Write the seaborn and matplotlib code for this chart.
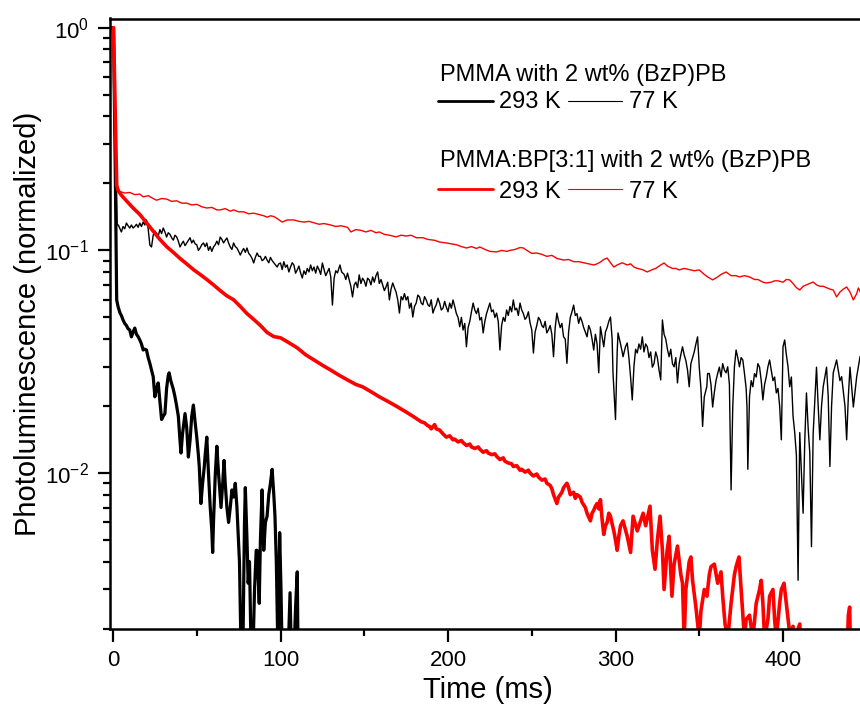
import numpy as np
import pandas as pd
import seaborn as sns
import matplotlib
matplotlib.use("Agg")
import matplotlib.pyplot as plt
from matplotlib.lines import Line2D
from matplotlib.ticker import MultipleLocator, LogLocator, NullFormatter

# ---------------- data ----------------
# PMMA, 293 K (thick black)
t_b293 = [-2, 0.3, 1.3, 2.2, 3, 4.2, 5, 6, 7, 8, 9, 10, 11, 12, 13, 14, 15, 16, 17, 18,
          19, 20, 21, 22, 23, 24, 25, 26, 27, 28, 29, 30, 31, 32, 33, 33.5, 34.5, 36, 37, 38,
          39, 40, 40.6, 41.5, 43, 44, 45, 46, 47, 48, 49, 50, 51, 51.5, 52.5, 53.5, 54.5, 55, 56, 57,
          58, 59, 59.5, 60, 61, 62, 63, 64.5, 65.5, 66.3, 67, 68, 69, 70, 71, 72, 73, 74, 74.5, 75.5,
          76.5, 77.5, 78.5, 79, 80, 80.7, 81.5, 82.5, 83.5, 84.5, 85.5, 86, 87, 87.3, 88, 89, 90, 91,
          92, 93, 94, 95, 96, 96.7, 97.5, 98.5, 99.5, 100.3, 101, 103, 104.5, 105.7, 106.5, 108,
          109, 110, 110.5, 112]
v_b293 = [1.0, 1.0, 0.25, 0.0599, 0.056, 0.0523, 0.051, 0.0487, 0.047, 0.046, 0.0445, 0.0439,
          0.0409, 0.043, 0.0448, 0.042, 0.041, 0.0396, 0.038, 0.0357, 0.036, 0.0357, 0.033, 0.0311,
          0.029, 0.0271, 0.0220, 0.024, 0.0254, 0.021, 0.0174, 0.0180, 0.0185, 0.024, 0.0275, 0.0282,
          0.026, 0.0238, 0.022, 0.020, 0.0180, 0.014, 0.0123, 0.015, 0.0185, 0.016, 0.0118, 0.014,
          0.018, 0.0202, 0.017, 0.0145, 0.012, 0.0107, 0.0073, 0.009, 0.0107, 0.012, 0.0145, 0.010,
          0.0071, 0.0055, 0.0044, 0.006, 0.0096, 0.0132, 0.010, 0.0070, 0.009, 0.0114, 0.009, 0.007,
          0.0060, 0.007, 0.0084, 0.0078, 0.0090, 0.007, 0.0058, 0.004, 0.0015, 0.0015, 0.006, 0.0086,
          0.005, 0.0032, 0.004, 0.0015, 0.0015, 0.003, 0.0045, 0.0045, 0.003, 0.0026, 0.005, 0.0084,
          0.0045, 0.006, 0.0064, 0.008, 0.009, 0.0104, 0.008, 0.0064, 0.004, 0.0015, 0.0054, 0.003,
          0.0015, 0.0015, 0.0015, 0.0029, 0.0015, 0.0015, 0.0025, 0.0036, 0.0015, 0.0015]

# PMMA, 77 K (thin black)
t_b77 = [-2, 0.3, 1.5, 2.5, 3.2, 4, 5, 6, 7, 8, 9, 10, 11, 12, 13, 14, 15, 16, 17, 18,
         19, 20, 21, 22, 23, 24, 25, 26, 27, 28, 29, 30, 31, 32, 33, 34, 35, 36, 37, 38,
         39, 40, 41, 42, 43, 44, 45, 46, 47, 48, 49, 50, 51, 52, 53, 54, 55, 56, 57, 58,
         59, 60, 61, 62, 63, 64, 65, 66, 67, 68, 69, 70, 71, 72, 73, 74, 75, 76, 77, 78,
         79, 80, 81, 82, 83, 84, 85, 86, 87, 88, 89, 90, 91, 92, 93, 94, 95, 96, 97, 98,
         99, 100, 101, 102, 103, 104, 105, 106, 107, 108, 109, 110, 111, 112, 113, 114, 115, 116, 117, 118,
         119, 120, 121, 122, 123, 124, 125, 126, 127, 128, 129, 130, 131, 132, 133, 134, 135.5, 136.5, 138, 139,
         140, 141.5, 142, 143, 144, 145, 146, 147, 148, 149, 150, 151, 152, 153, 154, 155, 156, 157, 158, 159,
         160, 161, 162, 163, 164, 165, 166, 167, 168, 169, 170, 171, 172, 173, 174, 175, 176, 177, 178, 179,
         180, 181, 182, 183, 184, 185, 186, 187, 188, 189, 190, 191, 192, 193, 194, 195, 196, 197, 198, 199,
         200, 201, 202, 203, 204, 205, 206, 207, 208, 209, 210, 211, 212, 213, 214, 215, 216, 217, 218, 219,
         220, 221, 222, 223, 224, 225, 226, 227, 228, 229, 230, 231, 232, 233, 234, 235, 236, 237, 238, 239,
         240, 241, 242, 243, 244, 245, 246, 247, 248, 249, 250, 251, 252, 253, 254, 255, 256, 257, 258, 259,
         260, 261, 262, 263, 264, 265, 266, 267, 268, 269, 270, 271, 272, 273, 274, 275, 276, 277, 278, 279,
         280, 281, 282, 283, 284, 285, 286, 287, 288, 289, 290, 291, 292, 293, 294, 295, 296, 297, 298, 298.5,
         299, 300, 301, 301.5, 303, 304, 304.5, 306, 307, 308, 309, 310, 311, 312, 313, 314, 315, 316, 317, 318,
         319, 320, 321, 322, 323, 324, 325, 326, 327, 328, 329, 330, 331, 332, 333, 334, 335, 336, 337, 338,
         339, 340, 341, 342, 343, 344, 345, 346, 347, 348, 349, 350, 351, 352, 353, 354.5, 355, 356, 357, 358,
         359, 360, 361, 362, 363, 364, 365, 366, 367, 368, 369, 370, 371, 372, 373, 374, 375, 376, 377, 378,
         378.5, 379, 380, 381, 382, 383, 384, 385, 386, 387, 388, 389, 390, 391, 392, 393, 394, 395, 396, 397,
         398, 399, 400, 401, 402, 403, 404, 405, 406, 407, 408, 409, 410, 411, 412, 413, 414, 415, 416, 417,
         418, 419, 420, 421, 422, 423, 424, 426, 427, 428, 429, 430, 432, 434, 435, 437, 438, 439, 440, 442,
         444, 446, 448]
v_b77 = [1.0, 1.0, 0.30, 0.13, 0.130, 0.126, 0.121, 0.128, 0.125, 0.1327, 0.129, 0.126, 0.130, 0.126, 0.128, 0.131, 0.127, 0.1327, 0.128, 0.134,
         0.130, 0.137, 0.125, 0.1057, 0.1036, 0.117, 0.122, 0.1195, 0.116, 0.124, 0.119, 0.126, 0.121, 0.1148, 0.120, 0.118, 0.114, 0.1112, 0.117, 0.115,
         0.110, 0.1036, 0.107, 0.110, 0.105, 0.1079, 0.111, 0.114, 0.108, 0.1112, 0.107, 0.106, 0.100, 0.1025, 0.106, 0.108, 0.104, 0.1079, 0.100, 0.104,
         0.099, 0.1036, 0.106, 0.110, 0.106, 0.1148, 0.112, 0.108, 0.111, 0.1137, 0.108, 0.1036, 0.101, 0.108, 0.104, 0.1025, 0.099, 0.0953, 0.099, 0.102,
         0.098, 0.1025, 0.097, 0.095, 0.092, 0.0878, 0.093, 0.0973, 0.094, 0.094, 0.090, 0.091, 0.094, 0.0905, 0.088, 0.093, 0.090, 0.088, 0.086, 0.0842,
         0.087, 0.0878, 0.082, 0.089, 0.084, 0.086, 0.080, 0.0842, 0.088, 0.086, 0.079, 0.0817, 0.085, 0.0792, 0.0752, 0.081, 0.078, 0.083, 0.080, 0.086,
         0.081, 0.0842, 0.079, 0.085, 0.082, 0.078, 0.0878, 0.082, 0.077, 0.080, 0.083, 0.076, 0.0568, 0.075, 0.081, 0.0792, 0.086, 0.080, 0.078, 0.074,
         0.079, 0.0714, 0.069, 0.0618, 0.070, 0.072, 0.068, 0.0776, 0.071, 0.075, 0.073, 0.069, 0.075, 0.0737, 0.070, 0.076, 0.072, 0.077, 0.080, 0.071,
         0.074, 0.070, 0.066, 0.0685, 0.072, 0.0599, 0.067, 0.0714, 0.068, 0.065, 0.060, 0.0523, 0.062, 0.060, 0.064, 0.0599, 0.062, 0.055, 0.058, 0.0502,
         0.056, 0.058, 0.063, 0.0618, 0.058, 0.057, 0.062, 0.0599, 0.057, 0.056, 0.060, 0.0523, 0.055, 0.057, 0.061, 0.058, 0.054, 0.055, 0.059, 0.0556,
         0.053, 0.058, 0.055, 0.0599, 0.056, 0.052, 0.050, 0.0454, 0.050, 0.0439, 0.047, 0.0369, 0.045, 0.048, 0.053, 0.058, 0.054, 0.052, 0.055, 0.0487,
         0.050, 0.0426, 0.048, 0.052, 0.055, 0.058, 0.053, 0.054, 0.050, 0.0523, 0.048, 0.0357, 0.046, 0.050, 0.048, 0.054, 0.051, 0.056, 0.053, 0.0599,
         0.054, 0.055, 0.051, 0.058, 0.054, 0.052, 0.049, 0.0502, 0.053, 0.0472, 0.044, 0.0346, 0.043, 0.046, 0.050, 0.0487, 0.046, 0.045, 0.048, 0.0426,
         0.044, 0.046, 0.042, 0.0333, 0.045, 0.0523, 0.048, 0.045, 0.047, 0.0409, 0.040, 0.0311, 0.043, 0.050, 0.053, 0.0568, 0.051, 0.052, 0.047, 0.0502,
         0.048, 0.045, 0.043, 0.0409, 0.046, 0.044, 0.040, 0.0357, 0.042, 0.038, 0.0282, 0.0454, 0.041, 0.0369, 0.043, 0.045, 0.048, 0.0502, 0.040, 0.0282,
         0.024, 0.0174, 0.035, 0.0426, 0.038, 0.035, 0.0333, 0.037, 0.0384, 0.033, 0.027, 0.0213, 0.030, 0.036, 0.0346, 0.038, 0.036, 0.0409, 0.035, 0.038,
         0.0369, 0.033, 0.035, 0.0299, 0.031, 0.035, 0.033, 0.029, 0.0262, 0.0487, 0.042, 0.040, 0.036, 0.0333, 0.036, 0.031, 0.030, 0.033, 0.0254, 0.031,
         0.034, 0.0369, 0.034, 0.032, 0.029, 0.0244, 0.031, 0.033, 0.035, 0.038, 0.0409, 0.0299, 0.024, 0.0162, 0.022, 0.0244, 0.028, 0.028, 0.025, 0.0198,
         0.023, 0.026, 0.028, 0.0299, 0.027, 0.031, 0.029, 0.0282, 0.030, 0.025, 0.0084, 0.0198, 0.030, 0.0357, 0.033, 0.030, 0.033, 0.0322, 0.028, 0.024,
         0.0198, 0.0104, 0.022, 0.026, 0.0244, 0.028, 0.027, 0.031, 0.0299, 0.026, 0.0213, 0.025, 0.027, 0.030, 0.0322, 0.029, 0.026, 0.027, 0.0229, 0.024,
         0.020, 0.0141, 0.0369, 0.0396, 0.034, 0.030, 0.0244, 0.027, 0.018, 0.0152, 0.012, 0.0033, 0.0152, 0.010, 0.0066, 0.014, 0.0229, 0.016, 0.0123, 0.00467,
         0.015, 0.0213, 0.0299, 0.020, 0.0141, 0.020, 0.0244, 0.0299, 0.022, 0.0107, 0.020, 0.0282, 0.0322, 0.026, 0.0271, 0.020, 0.0141, 0.022, 0.0299, 0.0198,
         0.0271, 0.0333, 0.035]

# PMMA:BP[3:1], 293 K (thick red)
t_r293 = [-2, 0.3, 1.2, 2.2, 3, 5, 8, 12, 16, 20, 24, 28, 32, 36, 40, 44, 48, 52, 56, 60,
          64, 68, 72, 76, 80, 84, 88, 92, 96, 100, 105, 110, 115, 120, 125, 130, 135, 140, 145, 149,
          154, 159, 164, 170, 175, 179, 184, 186, 188, 189, 190, 192, 193, 195, 197, 199, 201, 203, 204, 206,
          208, 209, 211, 213, 214, 216, 218, 219, 221, 223, 224, 226, 228, 229, 231, 233, 234, 236, 238, 239,
          241, 243, 244, 246, 248, 249, 251, 253, 254, 256, 258, 259, 261, 262, 263, 265, 266, 268, 269, 271,
          272, 273, 275, 276, 277, 279, 280, 282, 283, 285, 286, 287, 288, 289, 290, 291, 292, 293, 294, 295,
          296, 297, 298, 299, 300, 301, 302, 303, 304.5, 307, 309, 310.5, 313, 316.5, 318, 320.6, 322, 323.6, 325, 326.6,
          328, 329, 330.7, 332, 333.7, 335, 337, 339, 340, 341, 342, 344, 345, 346, 348, 350, 351, 353, 354.6, 356,
          357, 359, 361, 363, 364, 365.4, 367, 369, 371, 372, 373.7, 375, 377, 378, 380, 382, 384, 386, 387, 388,
          389, 391, 392, 394, 395, 396, 398, 399, 400.6, 401.5, 402.5, 404, 406, 407, 408, 410, 411, 415, 420, 425,
          430, 435, 438, 439, 439.8, 440.5, 445, 450]
v_r293 = [1.0, 1.0, 0.47, 0.196, 0.186, 0.177, 0.167, 0.155, 0.145, 0.133, 0.122, 0.112, 0.104, 0.098, 0.092, 0.087, 0.082, 0.078, 0.074, 0.070,
          0.066, 0.0625, 0.060, 0.056, 0.052, 0.049, 0.046, 0.0428, 0.041, 0.0405, 0.0385, 0.0365, 0.034, 0.0322, 0.0305, 0.029, 0.0275, 0.0262, 0.025, 0.0244,
          0.0232, 0.022, 0.0210, 0.0198, 0.0188, 0.018, 0.017, 0.0168, 0.0163, 0.0162, 0.0158, 0.0165, 0.0158, 0.0156, 0.0150, 0.0145, 0.0147, 0.0141, 0.0142, 0.0138,
          0.0140, 0.0137, 0.0133, 0.0135, 0.0131, 0.0129, 0.0131, 0.0128, 0.0124, 0.0126, 0.0123, 0.0121, 0.0122, 0.0119, 0.0115, 0.0117, 0.0113, 0.0111, 0.0110, 0.0107,
          0.0108, 0.0103, 0.0104, 0.0101, 0.0103, 0.0100, 0.0097, 0.0099, 0.0096, 0.0093, 0.0094, 0.0090, 0.0088, 0.0085, 0.0080, 0.0073, 0.0078, 0.0082, 0.0086, 0.009,
          0.0086, 0.0080, 0.0082, 0.0077, 0.0080, 0.0078, 0.0074, 0.0070, 0.0066, 0.0061, 0.0066, 0.0068, 0.0071, 0.0073, 0.0069, 0.0076, 0.0062, 0.0053, 0.0058, 0.0060,
          0.0066, 0.0064, 0.0059, 0.0055, 0.0050, 0.0045, 0.0052, 0.0058, 0.0061, 0.0052, 0.0044, 0.0064, 0.0055, 0.0066, 0.0058, 0.0071, 0.0045, 0.0037, 0.005, 0.0064,
          0.0045, 0.0030, 0.0044, 0.0052, 0.0028, 0.0039, 0.0047, 0.0035, 0.0032, 0.0018, 0.0030, 0.0040, 0.0042, 0.0033, 0.0025, 0.0018, 0.0024, 0.0030, 0.0028, 0.0035,
          0.0038, 0.0039, 0.0032, 0.0036, 0.0028, 0.0021, 0.0018, 0.0026, 0.0035, 0.0038, 0.0042, 0.0030, 0.0018, 0.0022, 0.0023, 0.0018, 0.0026, 0.003, 0.0033, 0.0026,
          0.0018, 0.0022, 0.0028, 0.003, 0.0022, 0.0018, 0.0026, 0.0030, 0.0032, 0.0028, 0.0024, 0.0019, 0.00205, 0.0018, 0.0019, 0.0021, 0.0015, 0.0012, 0.0013, 0.0012,
          0.0013, 0.0012, 0.0013, 0.0023, 0.0025, 0.0013, 0.0012, 0.0012]

# PMMA:BP[3:1], 77 K (thin red)
t_r77 = [-2, 0.3, 1.2, 2.2, 4, 7, 10, 13, 16, 18, 21, 24, 26, 29, 32, 35, 38, 41, 44, 47,
         50, 53, 56, 59, 62, 64, 67, 70, 72, 75, 78, 81, 84, 87, 90, 92, 94, 96, 98, 101,
         104, 108, 111, 114, 117, 120, 123, 126, 130, 133, 136, 140, 142, 145, 148, 151, 154, 157, 159, 162,
         165, 169, 172, 175, 178, 181, 185, 188, 192, 195, 199, 202, 205, 208, 211, 214, 217, 219, 222, 225,
         229, 232, 235, 237, 240, 243, 245, 248, 250, 253, 256, 259, 262, 265, 269, 272, 275, 278, 281, 284,
         287, 289, 291, 293, 295, 297, 299, 301, 304, 307, 309, 311, 313, 316, 319, 322, 324, 327, 329, 331,
         334, 336, 338, 341, 344, 347, 350, 353, 355, 358, 361, 363, 366, 369, 372, 374, 377, 380, 383, 385,
         388, 390, 393, 395, 397, 400, 402, 404, 406, 408, 410, 412, 414, 416, 418, 420, 422, 424, 426, 428,
         430, 432, 434, 436, 438, 440, 442, 444, 445, 447, 449]
v_r77 = [1.0, 1.0, 0.47, 0.196, 0.184, 0.181, 0.182, 0.178, 0.179, 0.174, 0.176, 0.171, 0.168, 0.171, 0.170, 0.166, 0.167, 0.163, 0.163, 0.160,
         0.161, 0.157, 0.155, 0.156, 0.152, 0.152, 0.154, 0.150, 0.152, 0.149, 0.149, 0.146, 0.147, 0.145, 0.143, 0.141, 0.143, 0.142, 0.139, 0.134,
         0.137, 0.137, 0.135, 0.134, 0.135, 0.133, 0.131, 0.132, 0.130, 0.128, 0.129, 0.127, 0.121, 0.124, 0.123, 0.121, 0.123, 0.120, 0.121, 0.118,
         0.117, 0.115, 0.117, 0.116, 0.117, 0.114, 0.114, 0.112, 0.111, 0.109, 0.108, 0.107, 0.106, 0.104, 0.1025, 0.104, 0.102, 0.1036, 0.101, 0.099,
         0.0984, 0.100, 0.099, 0.100, 0.101, 0.103, 0.1025, 0.099, 0.097, 0.0973, 0.096, 0.094, 0.095, 0.092, 0.0905, 0.091, 0.089, 0.089, 0.088, 0.087,
         0.086, 0.087, 0.0887, 0.091, 0.0924, 0.088, 0.0842, 0.086, 0.088, 0.086, 0.087, 0.0842, 0.083, 0.082, 0.080, 0.082, 0.083, 0.086, 0.0878, 0.085,
         0.083, 0.083, 0.0817, 0.083, 0.082, 0.081, 0.0817, 0.078, 0.076, 0.0737, 0.076, 0.078, 0.080, 0.077, 0.077, 0.076, 0.077, 0.076, 0.074, 0.074,
         0.072, 0.0714, 0.072, 0.073, 0.073, 0.072, 0.074, 0.0737, 0.071, 0.068, 0.0664, 0.069, 0.070, 0.071, 0.0721, 0.070, 0.069, 0.069, 0.068, 0.067,
         0.0664, 0.0618, 0.065, 0.067, 0.0685, 0.065, 0.0599, 0.064, 0.0678, 0.063, 0.064]

x_major_ticks = [0, 100, 200, 300, 400]
legend_title_1 = "PMMA with 2 wt% (BzP)PB"
legend_title_2 = "PMMA:BP[3:1] with 2 wt% (BzP)PB"
temp_labels = ["293 K", "77 K"]

# ---------------- style ----------------
sns.set_style("ticks")
plt.rcParams['font.family'] = ['Liberation Sans', 'DejaVu Sans']
plt.rcParams['mathtext.default'] = 'regular'
plt.rcParams['axes.linewidth'] = 1.8
for key in ['text.color', 'axes.labelcolor', 'xtick.color', 'ytick.color', 'axes.edgecolor']:
    plt.rcParams[key] = 'black'

W, H = 860, 707
fig = plt.figure(figsize=(W / 100, H / 100), dpi=100)

def fx(px):
    return px / W

def fy(py):
    return 1 - py / H

ax_left, ax_right = 109.65, 866.75
ax_top, ax_bottom = 18.5, 628.7
ax = fig.add_axes([fx(ax_left), fy(ax_bottom), (ax_right - ax_left) / W, (ax_bottom - ax_top) / H])

series = [
    (t_b293, v_b293, "black", 2.3),
    (t_b77, v_b77, "black", 1.0),
    (t_r293, v_r293, "red", 2.6),
    (t_r77, v_r77, "red", 1.0),
]
for t, v, c, lw in series:
    df = pd.DataFrame({"t": t, "v": v})
    sns.lineplot(data=df, x="t", y="v", ax=ax, color=c, linewidth=lw,
                 estimator=None, sort=False, legend=False)

ax.set_yscale("log")
ax.set_xlim(-2, 450)
ax.set_ylim(0.002, 1.1)
ax.set_xticks(x_major_ticks)
ax.xaxis.set_minor_locator(MultipleLocator(50))
ax.yaxis.set_major_locator(LogLocator(base=10, numticks=10))
ax.yaxis.set_minor_locator(LogLocator(base=10, subs=np.arange(2, 10), numticks=20))
ax.yaxis.set_minor_formatter(NullFormatter())

ax.tick_params(axis="both", which="major", direction="out", length=9, width=1.6,
               labelsize=16, pad=6, color="black", labelcolor="black")
ax.tick_params(axis="both", which="minor", direction="out", length=5, width=1.6, color="black")
ax.tick_params(axis="x", which="both", top=False)
ax.tick_params(axis="y", which="both", right=False)
for s in ax.spines.values():
    s.set_color("black")
    s.set_linewidth(1.8)

ax.set_xlabel("Time (ms)", fontsize=21, labelpad=4, color="black")
ax.set_ylabel("Photoluminescence (normalized)", fontsize=21, labelpad=2, color="black")

# ---------------- legend (text block) ----------------
fs = 17
fig.text(fx(440), fy(81), legend_title_1, fontsize=fs, ha="left", va="baseline", color="black")
fig.text(fx(440), fy(167.3), legend_title_2, fontsize=fs, ha="left", va="baseline", color="black")
for ly, base, col in [(100.7, 108.3, "black"), (189.3, 197.7, "red")]:
    fig.add_artist(Line2D([fx(438), fx(493)], [fy(ly), fy(ly)], color=col, lw=2.0,
                          transform=fig.transFigure))
    fig.text(fx(499), fy(base), temp_labels[0], fontsize=fs, ha="left", va="baseline", color="black")
    fig.add_artist(Line2D([fx(568), fx(622)], [fy(ly), fy(ly)], color=col, lw=0.8,
                          transform=fig.transFigure))
    fig.text(fx(629), fy(base), temp_labels[1], fontsize=fs, ha="left", va="baseline", color="black")

fig.savefig("out.png", dpi=100)
